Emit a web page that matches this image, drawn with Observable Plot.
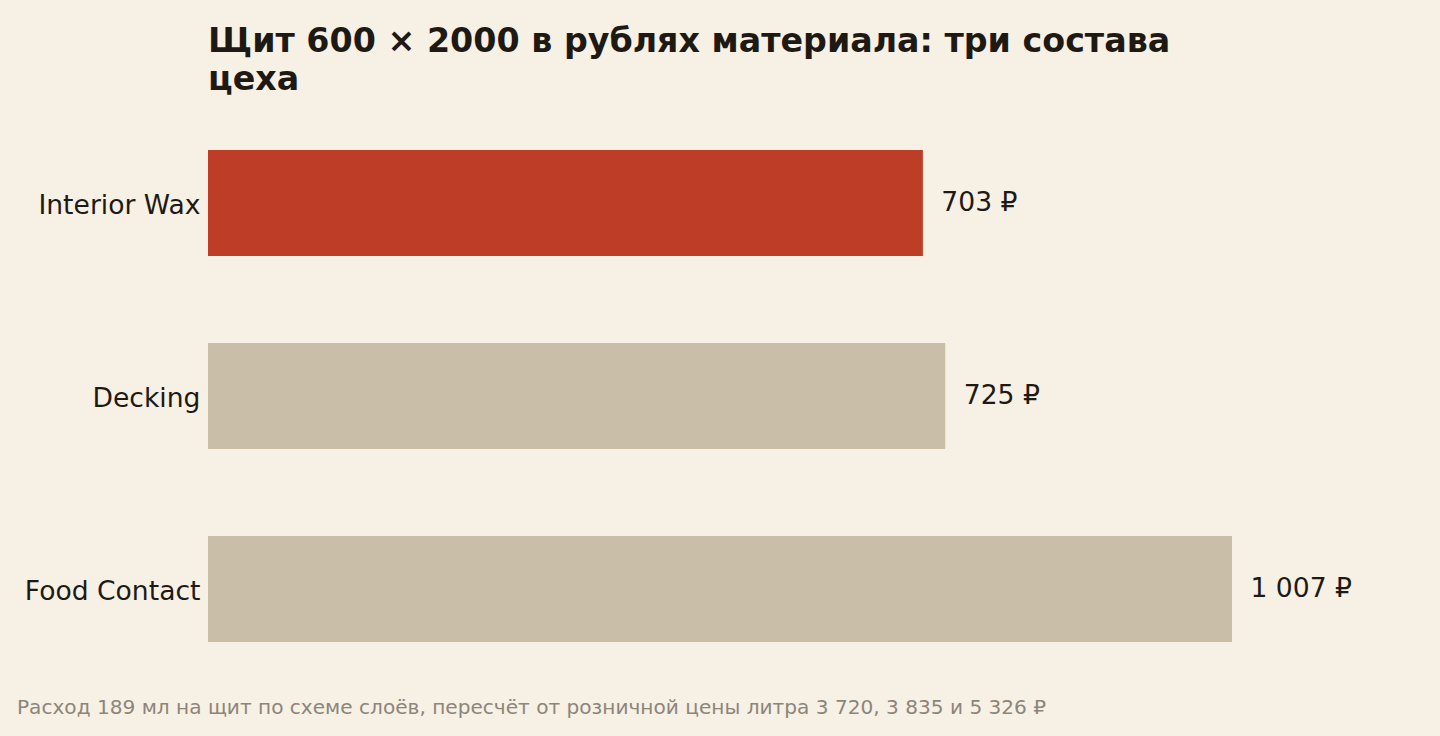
<!DOCTYPE html>
<html><head><meta charset="utf-8">
<script src="https://cdn.jsdelivr.net/npm/d3@7"></script>
<script src="https://cdn.jsdelivr.net/npm/@observablehq/plot@0.6"></script>
<style>
html,body{margin:0;padding:0;background:#f7f0e4;}
body{width:1440px;height:736px;overflow:hidden;font-family:"DejaVu Sans",sans-serif;}
#title{margin:22px 0 0 208px;width:1024px;font-size:33.3px;line-height:38px;font-weight:bold;color:#1e1a13;}
#caption{margin:8px 0 0 17px;font-size:20.1px;line-height:22px;color:#8c857a;white-space:nowrap;}
svg{display:block;}
</style></head>
<body>
<div id="title">Щит 600 × 2000 в рублях материала: три состава цеха</div>
<div id="chart"></div>
<div id="caption">Расход 189 мл на щит по схеме слоёв, пересчёт от розничной цены литра 3 720, 3 835 и 5 326 ₽</div>
<script>
const categories = ["Interior Wax", "Decking", "Food Contact"];
const values = [703, 725, 1007];
const highlight = ["Interior Wax"];

const data = categories.map((c, i) => ({name: c, value: values[i], hi: highlight.includes(c)}));
const fmt = d3.formatLocale({decimal: ",", thousands: " ", grouping: [3], currency: ["", " ₽"]}).format("$,.0f");

const chart = Plot.plot({
  width: 1440,
  height: 590,
  marginLeft: 208,
  marginRight: 208,
  marginTop: 20,
  marginBottom: 14,
  style: {background: "transparent", fontFamily: "DejaVu Sans, sans-serif", fontSize: "26.6px", color: "#1e1a13"},
  x: {domain: [0, d3.max(values)], axis: null},
  y: {domain: categories, paddingInner: 0.45, paddingOuter: 0.16, label: null},
  marks: [
    Plot.barX(data, {y: "name", x: "value", fill: d => d.hi ? "#bd3d27" : "#c9bea7"}),
    Plot.text(data, {y: "name", x: "value", text: d => fmt(d.value), textAnchor: "start", dx: 18, dy: -1, fontSize: 26.6, fill: "#1e1a13"}),
    Plot.axisY({tickSize: 0, tickPadding: 8, fontSize: 26.6, fill: "#1e1a13", dy: 2})
  ]
});
document.getElementById("chart").append(chart);
</script>
</body></html>
